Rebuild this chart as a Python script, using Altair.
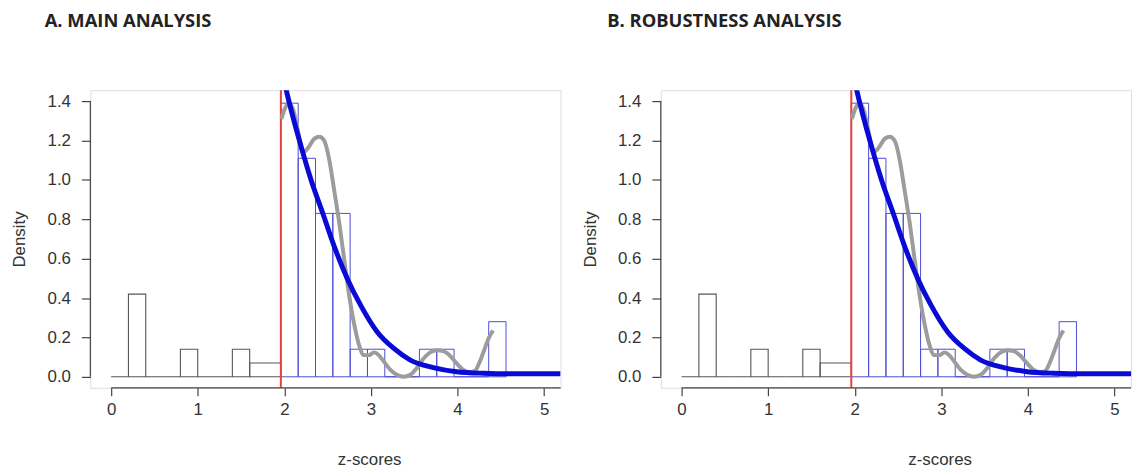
import altair as alt
import pandas as pd

# ---------------- data ----------------
panel_titles = ["A. MAIN ANALYSIS", "B. ROBUSTNESS ANALYSIS"]

# histogram bins below the 1.96 threshold (black outline)
grey_left = [0.0, 0.2, 0.4, 0.6, 0.8, 1.0, 1.2, 1.4, 1.6]
grey_right = [0.2, 0.4, 0.6, 0.8, 1.0, 1.2, 1.4, 1.6, 1.96]
grey_density = [0.0, 0.42, 0.0, 0.0, 0.14, 0.0, 0.0, 0.14, 0.07]

# histogram bins above the threshold (blue outline)
blue_left = [1.96, 2.16, 2.36, 2.56, 2.76, 2.96, 3.16, 3.36, 3.56, 3.76, 3.96, 4.16, 4.36]
blue_right = [2.16, 2.36, 2.56, 2.76, 2.96, 3.16, 3.36, 3.56, 3.76, 3.96, 4.16, 4.36, 4.56]
blue_density = [1.39, 1.11, 0.83, 0.83, 0.14, 0.14, 0.0, 0.0, 0.14, 0.14, 0.0, 0.0, 0.28]

# kernel density of significant z-scores (grey curve)
kde_z = [1.966, 2.004, 2.05, 2.10, 2.157, 2.214, 2.27, 2.348, 2.405, 2.46, 2.52,
         2.575, 2.635, 2.69, 2.75, 2.81, 2.864, 2.92, 2.98, 3.035, 3.09, 3.15,
         3.225, 3.30, 3.377, 3.455, 3.53, 3.61, 3.685, 3.76, 3.837, 3.913, 3.99,
         4.067, 4.142, 4.20, 4.257, 4.314, 4.364, 4.41]
kde_density = [1.31, 1.36, 1.39, 1.36, 1.25, 1.14, 1.16, 1.21, 1.22, 1.20, 1.10,
               0.95, 0.78, 0.60, 0.41, 0.26, 0.16, 0.11, 0.11, 0.124, 0.11, 0.077,
               0.035, 0.01, 0.0, 0.01, 0.044, 0.094, 0.124, 0.135, 0.13, 0.107, 0.068,
               0.035, 0.023, 0.03, 0.077, 0.143, 0.20, 0.235]

# fitted density (blue curve)
fit_z = [1.99, 2.023, 2.195, 2.309, 2.443, 2.574, 2.73, 2.882, 3.073, 3.265,
         3.455, 3.72, 3.99, 4.296, 4.677, 5.19]
fit_density = [1.52, 1.455, 1.168, 1.0, 0.832, 0.665, 0.496, 0.363, 0.228, 0.144,
               0.085, 0.047, 0.026, 0.018, 0.015, 0.015]

threshold = 1.96
x_ticks = [0, 1, 2, 3, 4, 5]
y_ticks = [0.0, 0.2, 0.4, 0.6, 0.8, 1.0, 1.2, 1.4]

# ---------------- layout constants ----------------
X_MIN, X_MAX = -0.24, 5.19
Y_MIN, Y_MAX = -0.056, 1.456
W, H = 474, 300
FONT = "Liberation Sans"
TEXT = "#333333"
AXIS = "#444444"

grey_df = pd.DataFrame({"x": grey_left, "x2": grey_right, "y": grey_density})
blue_df = pd.DataFrame({"x": blue_left, "x2": blue_right, "y": blue_density})
kde_df = pd.DataFrame({"z": kde_z, "d": kde_density})
fit_df = pd.DataFrame({"z": fit_z, "d": fit_density})

xs = alt.Scale(domain=[X_MIN, X_MAX], nice=False, zero=False)
ys = alt.Scale(domain=[Y_MIN, Y_MAX], nice=False, zero=False)

x_axis = alt.Axis(values=x_ticks, domain=False, grid=False, tickSize=8,
                  tickColor=AXIS, tickWidth=1.2, labelFont=FONT, labelFontSize=17,
                  labelColor=TEXT, labelPadding=6, format="d",
                  title="z-scores", titleFont=FONT, titleFontSize=17,
                  titleFontWeight="normal", titleColor=TEXT,
                  titleX=(2.98 - X_MIN) * W / (X_MAX - X_MIN), titleY=72,
                  titleBaseline="middle", titleAlign="center")
y_axis = alt.Axis(values=y_ticks, domain=False, grid=False, tickSize=9,
                  tickColor=AXIS, tickWidth=1.2, labelFont=FONT, labelFontSize=17,
                  labelColor=TEXT, labelPadding=11, format=".1f",
                  title="Density", titleFont=FONT, titleFontSize=17,
                  titleFontWeight="normal", titleColor=TEXT,
                  titleX=-71, titleY=H / 2, titleAngle=270,
                  titleBaseline="middle", titleAlign="center")


def panel(title, dx):
    grey = alt.Chart(grey_df).mark_rect(
        fillOpacity=0, stroke="#555555", strokeWidth=1.1
    ).encode(
        x=alt.X("x:Q", scale=xs, axis=x_axis), x2="x2:Q",
        y=alt.Y("y:Q", scale=ys, axis=y_axis), y2=alt.datum(0),
    )
    blue = alt.Chart(blue_df).mark_rect(
        fillOpacity=0, stroke="#4d4dd6", strokeWidth=1.0
    ).encode(x="x:Q", x2="x2:Q", y="y:Q", y2=alt.datum(0))
    red = alt.Chart().mark_rule(color="#e5433b", strokeWidth=2).encode(
        x=alt.datum(threshold), y=alt.datum(Y_MIN), y2=alt.datum(Y_MAX)
    )
    kde = alt.Chart(kde_df).mark_line(
        color="#9c9c9c", strokeWidth=4, interpolate="monotone", clip=True
    ).encode(x="z:Q", y="d:Q")
    fit = alt.Chart(fit_df).mark_line(
        color="#0a0ad6", strokeWidth=5, interpolate="monotone", clip=True
    ).encode(x="z:Q", y="d:Q")
    x_line = alt.Chart().mark_rule(color=AXIS, strokeWidth=1.2).encode(
        x=alt.datum(0), x2=alt.datum(X_MAX), y=alt.datum(Y_MIN)
    )
    y_line = alt.Chart().mark_rule(color=AXIS, strokeWidth=1.2).encode(
        x=alt.datum(X_MIN), y=alt.datum(0), y2=alt.datum(1.4)
    )
    return alt.layer(grey, blue, red, kde, fit, x_line, y_line).properties(
        width=W, height=H,
        title=alt.TitleParams(title, anchor="start", frame="group", dx=dx,
                              offset=44, baseline="alphabetic", font="Open Sans",
                              fontSize=18.5, fontWeight="bold", color="#222222"),
    )


chart = alt.hconcat(
    panel(panel_titles[0], -46), panel(panel_titles[1], -54), spacing=18
).properties(
    padding={"left": 2, "top": 2, "right": 0, "bottom": 0}
).configure_view(stroke=None).configure(background="white", font=FONT)

chart.save("out.html", embed_options={"renderer": "svg", "actions": False})
